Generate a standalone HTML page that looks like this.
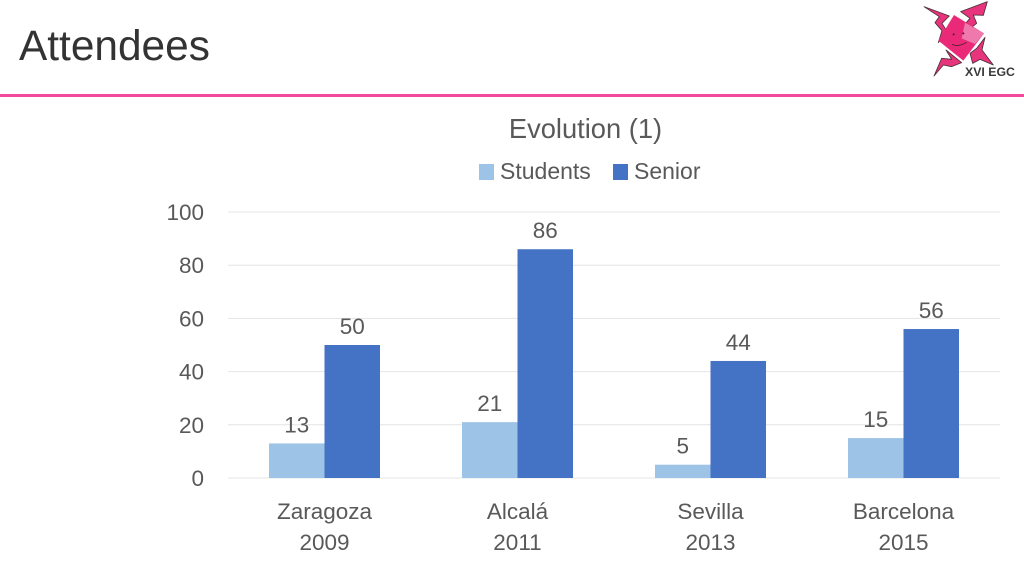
<!DOCTYPE html>
<html lang="en">
<head>
<meta charset="utf-8">
<title>Attendees</title>
<style>
html,body{margin:0;padding:0;background:#fff;width:1024px;height:576px;overflow:hidden}
svg{display:block;font-family:"Liberation Sans",sans-serif}
</style>
</head>
<body>
<svg id="slide" width="1024" height="576" viewBox="0 0 1024 576" xmlns="http://www.w3.org/2000/svg">
  <rect width="1024" height="576" fill="#ffffff"/>
  <text x="19" y="60" font-size="42.4" fill="#333333">Attendees</text>
  <rect x="0" y="94" width="1024" height="3" fill="#f3489f"/>
  <g transform="translate(920 0) scale(0.3333)">
    <polygon points="12,20 88,48 66,70 82,96 55,128 66,92 45,68 58,50" fill="#e8347c" stroke="#4a3038" stroke-width="2.5" stroke-linejoin="round"/>
    <polygon points="202,5 190,46 160,45 170,70 150,86 135,72 150,55 122,35" fill="#e8347c" stroke="#4a3038" stroke-width="2.5" stroke-linejoin="round"/>
    <polygon points="195,112 186,150 220,195 180,178 158,190 150,160 170,145" fill="#e8347c" stroke="#4a3038" stroke-width="2.5" stroke-linejoin="round"/>
    <polygon points="42,228 65,175 95,178 78,150 125,188 95,200 70,195" fill="#e8347c" stroke="#4a3038" stroke-width="2.5" stroke-linejoin="round"/>
    <polygon points="102,45 192,100 130,182 55,122" fill="#ea2a78"/>
    <polygon points="135,68 192,100 165,132 125,115" fill="#ef78ac"/>
    <circle cx="101" cy="103" r="3" fill="#40202c"/>
    <circle cx="130" cy="100" r="3" fill="#40202c"/>
    <path d="M96 133 Q116 142 140 127" fill="none" stroke="#40202c" stroke-width="2.5"/>
  </g>
  <text x="965" y="76" font-size="12.3" font-weight="bold" fill="#3a3a3a">XVI EGC</text>
  <text x="585.5" y="138" font-size="27.3" text-anchor="middle" fill="#595959">Evolution (1)</text>
  <rect x="479" y="164" width="15" height="16" fill="#9dc3e6"/>
  <text x="500" y="179" font-size="23" fill="#595959">Students</text>
  <rect x="613" y="164" width="15" height="16" fill="#4472c4"/>
  <text x="634" y="179" font-size="23" fill="#595959">Senior</text>
  <g id="plot"></g>
</svg>
<script>
const categories = ["Zaragoza", "Alcalá", "Sevilla", "Barcelona"];
const years = ["2009", "2011", "2013", "2015"];
const students = [13, 21, 5, 15];
const senior = [50, 86, 44, 56];
const yTicks = [0, 20, 40, 60, 80, 100];

const plotLeft = 228, plotRight = 1000, plotBottom = 478, plotTop = 212, yMax = 100;
const bandWidth = (plotRight - plotLeft) / categories.length;
const barWidth = 55.5;
const yScale = v => plotBottom - (v / yMax) * (plotBottom - plotTop);
const xCenter = i => plotLeft + bandWidth * (i + 0.5);
const plot = document.getElementById('plot');
const NS = 'http://www.w3.org/2000/svg';

function make(tag, attrs, text) {
  const el = document.createElementNS(NS, tag);
  for (const k in attrs) el.setAttribute(k, attrs[k]);
  if (text !== undefined) el.textContent = text;
  plot.appendChild(el);
  return el;
}

yTicks.forEach(t => {
  const line = make('line', {x1: plotLeft, x2: plotRight, y1: yScale(t), y2: yScale(t), stroke: '#e4e4e4', 'stroke-width': 1});
  
  
  const label = make('text', {x: 204, y: yScale(t) + 8, 'font-size': 22.5, 'text-anchor': 'end', fill: '#595959'}, t);
  
  
});

categories.forEach((c, i) => {
  const cx = xCenter(i);

  const studentBar = make('rect', {x: cx - barWidth, y: yScale(students[i]), width: barWidth, height: plotBottom - yScale(students[i]), fill: '#9dc3e6'});
  
  

  const seniorBar = make('rect', {x: cx, y: yScale(senior[i]), width: barWidth, height: plotBottom - yScale(senior[i]), fill: '#4472c4'});
  
  

  const studentValue = make('text', {x: cx - barWidth / 2, y: yScale(students[i]) - 11, 'font-size': 22.5, 'text-anchor': 'middle', fill: '#595959'}, students[i]);
  
  

  const seniorValue = make('text', {x: cx + barWidth / 2, y: yScale(senior[i]) - 11, 'font-size': 22.5, 'text-anchor': 'middle', fill: '#595959'}, senior[i]);
  
  

  const catLabel = make('text', {x: cx, y: 519, 'font-size': 22.5, 'text-anchor': 'middle', fill: '#595959'}, c);
  
  

  const yearLabel = make('text', {x: cx, y: 550, 'font-size': 22.5, 'text-anchor': 'middle', fill: '#595959'}, years[i]);
  
  
});
</script>
</body>
</html>
